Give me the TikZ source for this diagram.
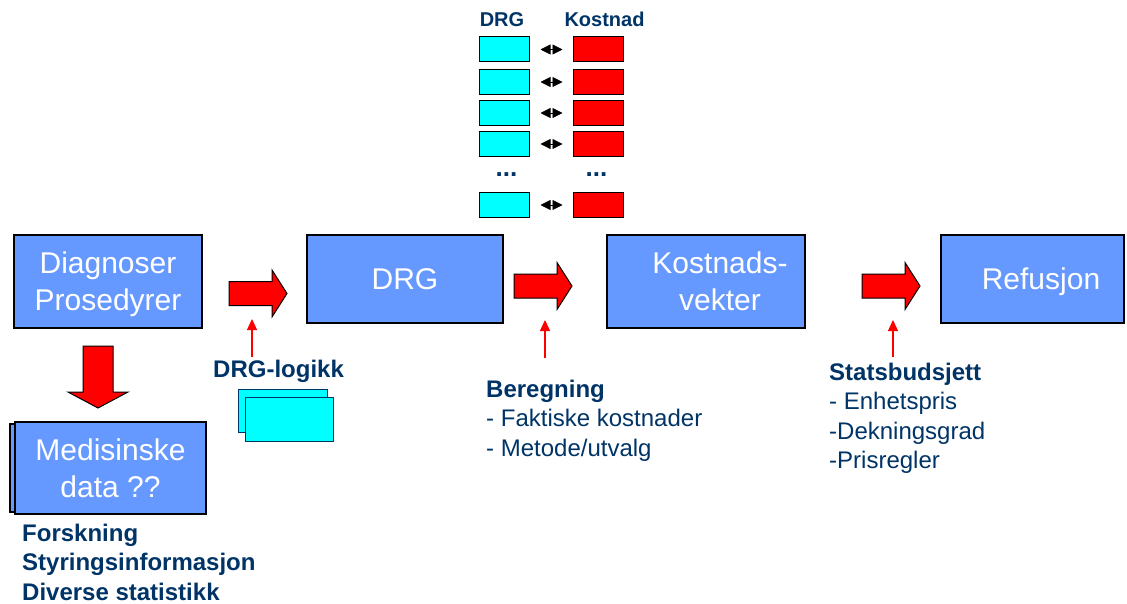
\documentclass[tikz,border=0pt]{standalone}
\usepackage{fontspec}
\setmainfont{Liberation Sans}
\usetikzlibrary{arrows.meta,positioning}
\definecolor{boxblue}{RGB}{102,153,255}
\definecolor{navy}{RGB}{0,51,102}
\definecolor{drgcyan}{RGB}{0,255,255}
\begin{document}
\begin{tikzpicture}[x=1pt, y=-1pt,
    main/.style = {draw=black, line width=1.5pt, fill=boxblue, text=white, align=center, inner sep=0pt, text depth=0pt, font=\fontsize{30}{37}\selectfont},
    cell/.style = {draw=black, line width=1pt, minimum width=50pt, minimum height=25pt, inner sep=0pt},
    note/.style = {text=navy, align=left, inner sep=0pt, anchor=base west, font=\fontsize{24}{29.5}\selectfont},
    head/.style = {text=navy, inner sep=0pt, anchor=base, font=\bfseries\fontsize{20}{24}\selectfont},
    blockarrow/.style = {draw=black, line width=1pt, fill=red},
    pointer/.style = {draw=red, line width=1.2pt, -{Triangle[length=11pt,width=10pt]}},
    pair/.style = {line width=0.8pt, {Triangle[length=10pt,width=10pt]}-{Triangle[length=10pt,width=10pt]}, shorten <=11pt, shorten >=10pt}]
    \useasboundingbox (0,0) rectangle (1127,604);

    % Hovedboksene
    \node[main, minimum width=188pt, minimum height=93pt] (diag) at (108,281.5) {Diagnoser\\Prosedyrer};
    \node[main, minimum width=196pt, minimum height=88pt] (drg) at (405,279) {DRG};
    \node[main, minimum width=198pt, minimum height=93pt] (vekter) at (706,281.5) {\hspace*{28pt}Kostnads-\\\hspace*{28pt}vekter};
    \node[main, minimum width=183pt, minimum height=88pt] (refusjon) at (1032.5,279) {\hspace*{17pt}Refusjon};

    % Medisinske data (to lag)
    \node[main, minimum width=190pt, minimum height=88pt] (medback) at (105,468) {};
    \node[main, minimum width=191pt, minimum height=92pt] (med) at (110.5,468) {Medisinske\\data ??};

    % Store piler
    \foreach \x/\y in {229/293.5, 514/286, 862/286}{
        \draw[blockarrow] (\x,\y) ++(0,-12) -- ++(43,0) -- ++(0,-11.5) -- ++(15,23.5) -- ++(-15,23.5) -- ++(0,-11.5) -- ++(-43,0) -- cycle;
    }
    \draw[blockarrow] (83,346) -- (113,346) -- (113,392) -- (128,392) -- (98,408) -- (68,392) -- (83,392) -- cycle;

    % DRG-tabellen
    \node[head] (hdrg) at (502,27) {DRG};
    \node[head] (hkost) at (604.5,27) {Kostnad};
    \foreach \i/\y in {1/49.5, 2/82, 3/113, 4/144, 5/205}{
        \node[cell, fill=drgcyan] (d\i) at (504,\y) {};
        \node[cell, fill=red] (k\i) at (598,\y) {};
        \draw[pair] (d\i) -- (k\i);
    }
    \node[head, font=\bfseries\fontsize{26}{30}\selectfont] (dotsd) at (506.5,177) {...};
    \node[head, font=\bfseries\fontsize{26}{30}\selectfont] (dotsk) at (596.5,177) {...};

    % DRG-logikk
    \node[note, font=\bfseries\fontsize{24}{29.5}\selectfont] (logikk) at (213,377) {DRG-logikk};
    \node[cell, draw=navy, fill=drgcyan, minimum width=89pt, minimum height=43pt] (logback) at (282.5,410.5) {};
    \node[cell, draw=navy, fill=drgcyan, minimum width=88pt, minimum height=44pt] (logfront) at (289,419) {};

    % Beregning og statsbudsjett (base = siste linje)
    \node[note] (beregning) at (486,456) {{\bfseries Beregning}\\- Faktiske kostnader\\- Metode/utvalg};
    \node[note] (stat) at (829,468.5) {{\bfseries Statsbudsjett}\\- Enhetspris\\-Dekningsgrad\\-Prisregler};
    \node[note, font=\bfseries\fontsize{24}{29.5}\selectfont] (bruk) at (22,600) {Forskning\\Styringsinformasjon\\Diverse statistikk};

    % Sma piler
    \coordinate (s1) at (252,357); \coordinate (t1) at (252,319);
    \coordinate (s2) at (545,358); \coordinate (t2) at (545,320);
    \coordinate (s3) at (893,357); \coordinate (t3) at (893,320);
    \foreach \i in {1,2,3}{
        \draw[pointer] (s\i) -- (t\i);
    }
\end{tikzpicture}
\end{document}
